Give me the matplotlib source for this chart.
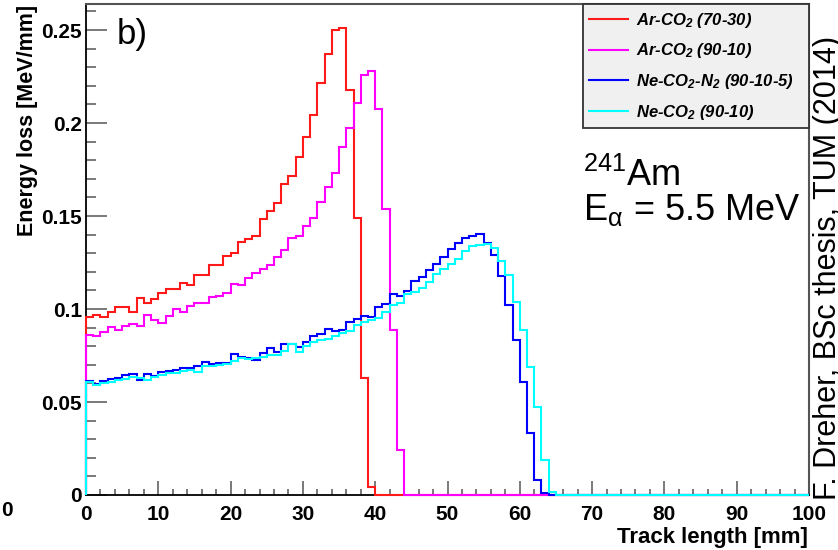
import matplotlib
matplotlib.use('Agg')
import matplotlib.pyplot as plt
import numpy as np
from matplotlib.ticker import MultipleLocator, FuncFormatter

plt.rcParams['font.family'] = ['Liberation Sans', 'DejaVu Sans']
plt.rcParams['mathtext.default'] = 'regular'

# 1 mm bins along the track
track_edges = np.arange(0, 101, 1)

# energy loss per bin [MeV/mm]
ar_co2_7030 = [0.0959, 0.0968, 0.0959, 0.0986, 0.1009, 0.1009, 0.0982, 0.1061, 0.1030, 0.1052,
               0.1084, 0.1106, 0.1106, 0.1138, 0.1129, 0.1181, 0.1181, 0.1237, 0.1237, 0.1285,
               0.1299, 0.1362, 0.1376, 0.1392, 0.1482, 0.1529, 0.1572, 0.1670, 0.1717, 0.1819,
               0.1923, 0.2043, 0.2217, 0.2369, 0.2500, 0.2513, 0.2177, 0.1487, 0.0630, 0.0043] + [0.0] * 60

ar_co2_9010 = [0.0860, 0.0855, 0.0878, 0.0901, 0.0887, 0.0909, 0.0919, 0.0909, 0.0968, 0.0941,
               0.0923, 0.0962, 0.1002, 0.0984, 0.1016, 0.1034, 0.1034, 0.1066, 0.1070, 0.1084,
               0.1134, 0.1129, 0.1165, 0.1192, 0.1213, 0.1237, 0.1278, 0.1317, 0.1380, 0.1392,
               0.1446, 0.1487, 0.1577, 0.1658, 0.1733, 0.1873, 0.1975, 0.2109, 0.2258, 0.2280,
               0.2075, 0.1538, 0.0887, 0.0242] + [0.0] * 56

ne_co2_n2 = [0.0613, 0.0595, 0.0613, 0.0622, 0.0631, 0.0645, 0.0651, 0.0618, 0.0651, 0.0640,
             0.0663, 0.0668, 0.0672, 0.0681, 0.0685, 0.0694, 0.0713, 0.0703, 0.0708, 0.0708,
             0.0756, 0.0740, 0.0735, 0.0726, 0.0762, 0.0789, 0.0771, 0.0810, 0.0810, 0.0797,
             0.0824, 0.0855, 0.0866, 0.0891, 0.0884, 0.0887, 0.0928, 0.0946, 0.0962, 0.0959,
             0.1011, 0.1025, 0.1081, 0.1070, 0.1099, 0.1152, 0.1174, 0.1210, 0.1242, 0.1280,
             0.1321, 0.1357, 0.1380, 0.1392, 0.1403, 0.1355, 0.1290, 0.1180, 0.1020, 0.0832,
             0.0609, 0.0335, 0.0081, 0.0010] + [0.0] * 36

ne_co2 = [0.0609, 0.0591, 0.0600, 0.0609, 0.0618, 0.0624, 0.0636, 0.0631, 0.0618, 0.0633,
          0.0645, 0.0654, 0.0658, 0.0668, 0.0672, 0.0663, 0.0694, 0.0694, 0.0699, 0.0704,
          0.0722, 0.0735, 0.0729, 0.0735, 0.0744, 0.0753, 0.0753, 0.0776, 0.0810, 0.0771,
          0.0801, 0.0824, 0.0833, 0.0837, 0.0855, 0.0873, 0.0884, 0.0914, 0.0932, 0.0941,
          0.0950, 0.0985, 0.1020, 0.1035, 0.1081, 0.1093, 0.1111, 0.1147, 0.1188, 0.1213,
          0.1242, 0.1267, 0.1314, 0.1339, 0.1344, 0.1349, 0.1326, 0.1260, 0.1183, 0.1039,
          0.0887, 0.0690, 0.0475, 0.0190, 0.0018] + [0.0] * 35

labels = [r'Ar-CO$_2$ (70-30)', r'Ar-CO$_2$ (90-10)',
          r'Ne-CO$_2$-N$_2$ (90-10-5)', r'Ne-CO$_2$ (90-10)']
colors = ['#ff1a1a', '#ff00ff', '#0000ff', '#00ffff']
series = [ar_co2_7030, ar_co2_9010, ne_co2_n2, ne_co2]

fig = plt.figure(figsize=(8.38, 5.5), dpi=100)
ax = fig.add_axes([86 / 838, 55 / 550, 723 / 838, 491 / 550])

for vals, col, lab in zip(series, colors, labels):
    ax.stairs(vals, track_edges, color=col, lw=1.5, label=lab,
              zorder=3, clip_on=False)

ax.set_xlim(0, 100)
ax.set_ylim(0, 0.264)

# ROOT-like axes: ticks inside, bold labels
ax.xaxis.set_major_locator(MultipleLocator(10))
ax.xaxis.set_minor_locator(MultipleLocator(2))
ax.yaxis.set_major_locator(MultipleLocator(0.05))
ax.yaxis.set_minor_locator(MultipleLocator(0.01))
ax.yaxis.set_major_formatter(FuncFormatter(lambda v, p: '%g' % round(v, 3)))
ax.tick_params(axis='x', which='major', direction='in', length=10, width=1.1,
               color='#555555', pad=7, labelsize=15)
ax.tick_params(axis='x', which='minor', direction='in', length=4.5, width=1.1,
               color='#555555')
ax.tick_params(axis='y', which='major', direction='in', length=15, width=1.1,
               color='#555555', pad=3, labelsize=15)
ax.tick_params(axis='y', which='minor', direction='in', length=7.5, width=1.1,
               color='#555555')
for lab in ax.get_xticklabels() + ax.get_yticklabels():
    lab.set_fontweight('bold')

for side in ['left', 'bottom']:
    ax.spines[side].set_color('black')
    ax.spines[side].set_linewidth(1.3)
for side in ['top', 'right']:
    ax.spines[side].set_color('#555555')
    ax.spines[side].set_linewidth(1.5)

fig.text(808 / 838, 1 - 543 / 550, 'Track length [mm]', ha='right', va='baseline',
         fontsize=16, fontweight='bold')
fig.text(27 / 838, 1 - 5 / 550, 'Energy loss [MeV/mm]', ha='center', va='top',
         rotation=90, fontsize=15.5, fontweight='bold')

leg = ax.legend(loc='upper left', bbox_to_anchor=(0.687, 0.749, 0.313, 0.251),
                mode='expand', borderaxespad=0, fancybox=False, framealpha=1,
                prop={'weight': 'bold', 'style': 'italic', 'size': 12},
                handlelength=2.3, handletextpad=0.5, labelspacing=0.7,
                borderpad=0.4)
leg.get_frame().set_facecolor('#f0f0f0')
leg.get_frame().set_edgecolor('#333333')
leg.get_frame().set_linewidth(1.3)

fig.text(117 / 838, 1 - 18 / 550, 'b)', ha='left', va='top', fontsize=25)
fig.text(583 / 838, 1 - 186 / 550, r'$^{241}$Am', ha='left', va='baseline', fontsize=26)
fig.text(583 / 838, 1 - 220 / 550, r'E$_{\alpha}$ = 5.5 MeV', ha='left', va='baseline',
         fontsize=26)
fig.text(836 / 838, 1 - 500 / 550, 'F. Dreher, BSc thesis, TUM (2014)', rotation=90,
         rotation_mode='anchor', ha='left', va='baseline', fontsize=22)
# stray tick label of the neighbouring panel
fig.text(7 / 838, 1 - 511 / 550, '0', ha='center', va='center', fontsize=15,
         fontweight='bold')

fig.savefig('out.png', dpi=100)
